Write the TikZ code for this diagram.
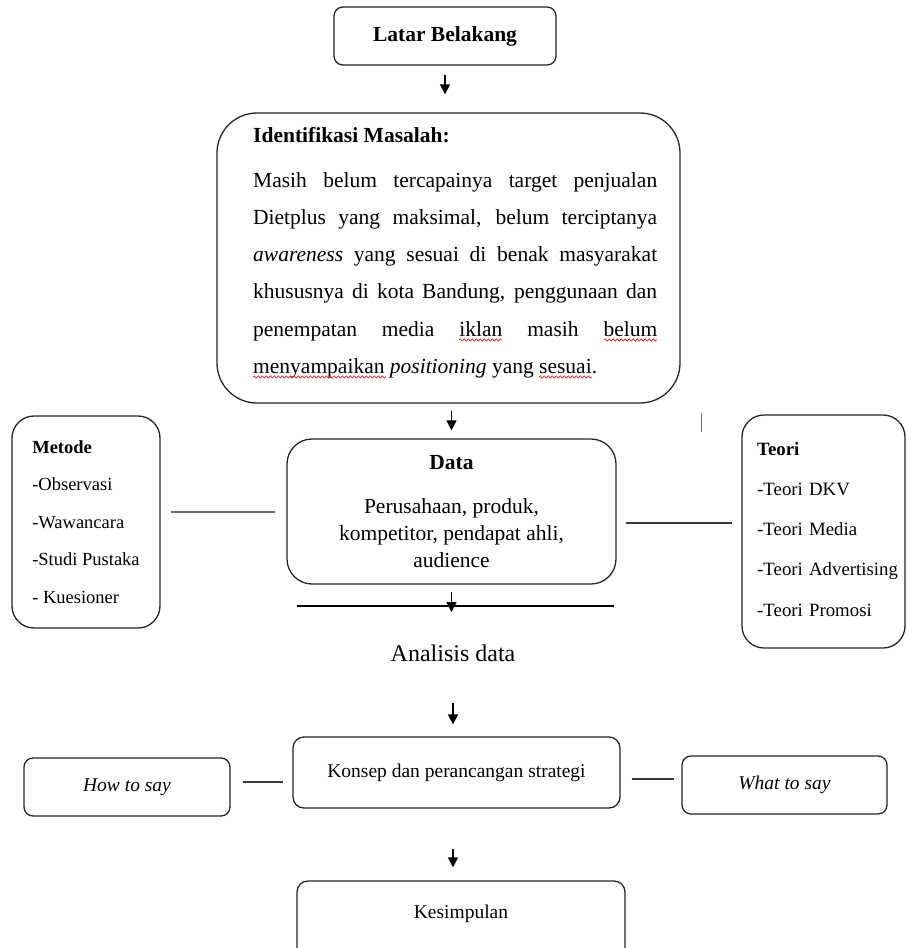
\documentclass[tikz,border=0pt]{standalone}
\usepackage{fontspec}
\setmainfont{Liberation Serif}
\usepackage{tikz}
\usetikzlibrary{arrows.meta,positioning,calc,decorations.pathmorphing}
\definecolor{garisAbu}{HTML}{6E6E6E}
\definecolor{garisGelap}{HTML}{3A3A3A}
\definecolor{salahMerah}{HTML}{E02424}
\tikzset{
  kotak/.style={draw=black!85, line width=1.3pt, rounded corners=#1, align=center},
  kotak/.default=9pt,
  panah/.style={-{Triangle[length=10pt,width=10pt]}, line width=1.4pt},
  garis/.style={line width=1.4pt, draw=garisGelap},
  salahketik/.style={draw=salahMerah, line width=0.7pt, decorate, decoration={snake, amplitude=1.2pt, segment length=4pt}},
}

\begin{document}
\begin{tikzpicture}[x=1pt, y=-1pt]
\useasboundingbox (0,0) rectangle (907,948);

% alur utama
\node[kotak, minimum width=222pt, minimum height=58pt, font=\fontsize{21.5}{26}\selectfont\bfseries] (latar) at (445,36) {Latar Belakang};
\node[kotak=40pt, minimum width=463pt, minimum height=290pt] (ident) at (448.5,258) {};
\node[anchor=base west, text width=404pt, align=justify, inner sep=0pt, font=\fontsize{21.5}{37.2}\selectfont] (identIsi) at (253,142) {\hyphenpenalty=10000 \tolerance=10000
  \textbf{Identifikasi Masalah:}\\[8pt]
  Masih belum tercapainya target penjualan\linebreak
  Dietplus yang maksimal, belum terciptanya\linebreak
  \emph{awareness} yang sesuai di benak masyarakat\linebreak
  khususnya di kota Bandung, penggunaan dan\linebreak
  penempatan media iklan masih belum\linebreak
  menyampaikan \emph{positioning} yang sesuai.};
% garis merah ejaan
\draw[salahketik] (459,340) -- (502,340);
\draw[salahketik] (604,340) -- (657,340);
\draw[salahketik] (253,377) -- (386,377);
\draw[salahketik] (539,377) -- (592,377);

\node[kotak=25pt, minimum width=329pt, minimum height=145pt, font=\fontsize{21.5}{27}\selectfont] (data) at (451.5,511.5) {\textbf{Data}\\[17pt]Perusahaan, produk,\\kompetitor, pendapat ahli,\\audience};

\node[kotak=22pt, align=left, minimum width=148pt, minimum height=212pt, font=\fontsize{18.5}{37.5}\selectfont] (metode) at (86,522) {\textbf{Metode}\\-Observasi\\-Wawancara\\-Studi Pustaka\\- Kuesioner};

\node[kotak=22pt, minimum width=163pt, minimum height=233pt] (teori) at (823.5,531.5) {};
\node[anchor=base west, text width=150pt, align=left, inner sep=0pt, font=\fontsize{18.8}{40.3}\selectfont] (teoriIsi) at (757,455) {\textbf{Teori}\\-Teori DKV\\-Teori Media\\-Teori Advertising\\-Teori Promosi};

\coordinate (garisKiri) at (297,606);
\coordinate (garisKanan) at (614,606);
\node[font=\fontsize{24}{28}\selectfont] (analisis) at (453,653) {Analisis data};

\node[kotak=11pt, minimum width=327pt, minimum height=71pt, font=\fontsize{19.5}{22}\selectfont] (konsep) at (456.5,772.5) {Konsep dan perancangan strategi};
\node[kotak, minimum width=206pt, minimum height=58pt, font=\fontsize{19.5}{22}\selectfont\itshape] (howto) at (127,787) {How to say};
\node[kotak, minimum width=205pt, minimum height=58pt, font=\fontsize{19.5}{22}\selectfont\itshape] (whatto) at (784.5,785) {What to say};
\node[kotak=11pt, minimum width=328pt, minimum height=80pt, text height=13pt, text depth=19pt, font=\fontsize{19.5}{22}\selectfont] (kesimpulan) at (461,921) {Kesimpulan};

% panah
\draw[panah, shorten <=9pt, shorten >=18pt] (latar.south) -- (latar.south |- ident.north);
\draw[panah, shorten <=7pt, shorten >=8pt] (data.north |- ident.south) -- (data.north);
\draw[line width=1.4pt] (garisKiri) -- (garisKanan);
\draw[panah, shorten <=7pt, shorten >=-6pt] (data.south) -- (data.south |- garisKiri);
\draw[panah, shorten <=38pt, shorten >=12pt] (analisis.south) -- (analisis.south |- konsep.north);
\draw[panah, shorten <=40pt, shorten >=13pt] (analisis.south |- konsep.south) -- (analisis.south |- kesimpulan.north);

% garis samping
\draw[garis, draw=garisAbu, line width=2pt, shorten <=10pt, shorten >=11pt] (metode.east |- data.west) -- (data.west);
\draw[garis, shorten <=9pt, shorten >=9pt] ([yshift=-11.5pt]data.east) -- ([yshift=-11.5pt]data.east -| teori.west);
\draw[garis, shorten <=12pt, shorten >=9pt] ([yshift=5pt]howto.east) -- ([yshift=5pt]howto.east -| konsep.west);
\draw[garis, shorten <=11pt, shorten >=7pt] ([yshift=6pt]whatto.west -| konsep.east) -- ([yshift=6pt]whatto.west);
\draw[garisAbu, line width=1pt] (701,413) -- (701,432);
\end{tikzpicture}
\end{document}
